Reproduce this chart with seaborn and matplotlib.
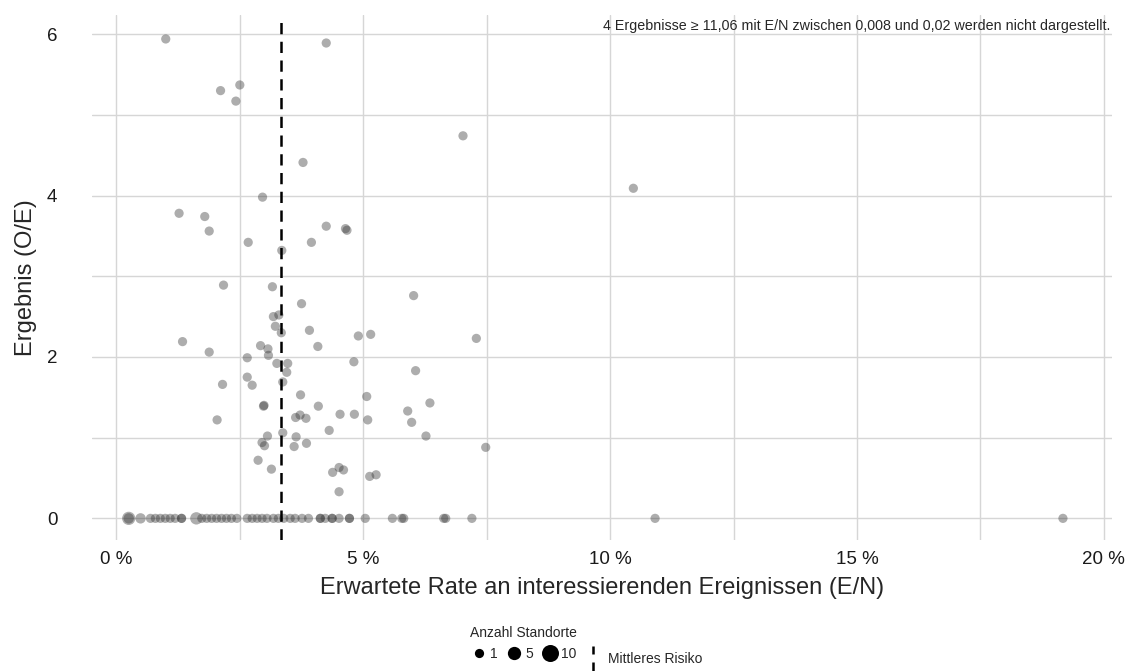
import numpy as np
import pandas as pd
import matplotlib
matplotlib.use("Agg")
import matplotlib.pyplot as plt
import seaborn as sns
from matplotlib.lines import Line2D
from matplotlib.path import Path
from matplotlib.ticker import MultipleLocator, FuncFormatter

# expected rate E/N in percent, observed/expected ratio
rate_pos = [1.00, 4.25, 2.50, 2.11, 2.42, 3.78, 7.02, 10.47, 2.96, 1.27, 1.79, 1.88,
            4.25, 4.64, 4.67, 2.67, 3.95, 3.35, 2.17, 3.16, 3.75, 6.02, 3.18, 3.29,
            3.22, 3.34, 3.91, 1.34, 4.08, 2.92, 3.07, 3.08, 1.88, 2.65, 3.25, 3.47,
            3.45, 3.37, 2.65, 2.75, 2.15, 3.73, 4.09, 2.98, 2.99, 2.04, 3.63, 3.72,
            3.84, 4.53, 4.82, 5.15, 4.90, 4.81, 5.07, 5.09, 4.31, 3.37, 3.06, 2.95,
            3.00, 3.64, 3.60, 3.85, 2.87, 3.14, 4.38, 4.51, 4.60, 5.13, 5.26, 4.51,
            7.29, 6.06, 6.35, 5.90, 5.98, 6.27, 7.48]
oe_pos = [5.94, 5.89, 5.37, 5.30, 5.17, 4.41, 4.74, 4.09, 3.98, 3.78, 3.74, 3.56,
          3.62, 3.59, 3.57, 3.42, 3.42, 3.32, 2.89, 2.87, 2.66, 2.76, 2.50, 2.52,
          2.38, 2.30, 2.33, 2.19, 2.13, 2.14, 2.10, 2.02, 2.06, 1.99, 1.92, 1.92,
          1.81, 1.69, 1.75, 1.65, 1.66, 1.53, 1.39, 1.39, 1.40, 1.22, 1.25, 1.28,
          1.24, 1.29, 1.29, 2.28, 2.26, 1.94, 1.51, 1.22, 1.09, 1.06, 1.02, 0.94,
          0.90, 1.01, 0.89, 0.93, 0.72, 0.61, 0.57, 0.63, 0.60, 0.52, 0.54, 0.33,
          2.23, 1.83, 1.43, 1.33, 1.19, 1.02, 0.88]

rate_zero = [0.25, 0.25, 0.49, 0.69, 0.79, 0.89, 0.99, 1.09, 1.19, 1.32, 1.32, 1.62,
             1.73, 1.83, 1.93, 2.03, 2.13, 2.23, 2.33, 2.44, 2.65, 2.75, 2.85, 2.95,
             3.05, 3.18, 3.28, 3.39, 3.52, 3.62, 3.76, 3.89, 4.13, 4.13, 4.23, 4.37,
             4.37, 4.51, 4.72, 4.72, 5.04, 5.59, 5.78, 5.82, 6.63, 6.67, 7.20, 10.91,
             19.17]
n_zero = [5, 2, 2, 1, 1, 1, 1, 1, 1, 1, 1, 4,
          1, 1, 1, 1, 1, 1, 1, 1, 1, 1, 1, 1,
          1, 1, 1, 1, 1, 1, 1, 1, 1, 1, 1, 1,
          1, 1, 1, 1, 1, 1, 1, 1, 1, 1, 1, 1,
          1]

mean_risk = 3.34
size_levels = [1, 5, 10]
note = "4 Ergebnisse \u2265 11,06 mit E/N zwischen 0,008 und 0,02 werden nicht dargestellt."

df = pd.DataFrame({
    "rate": np.array(rate_pos + rate_zero) / 100,
    "oe": oe_pos + [0] * len(rate_zero),
    "n": [1] * len(rate_pos) + n_zero,
})

sns.set_style("white")
plt.rcParams["font.family"] = ["Liberation Sans", "DejaVu Sans"]

S_MIN, S_MAX = 44, 150

fig = plt.figure(figsize=(11.38, 6.71), dpi=100)
ax = fig.add_axes([0.081, 0.195, 0.896, 0.783])

sns.scatterplot(data=df, x="rate", y="oe", size="n", sizes=(S_MIN, S_MAX), size_norm=(1, 10),
                color="#333333", alpha=0.4, edgecolor="none", legend=False, ax=ax, zorder=3)
ax.axvline(mean_risk / 100, color="black", lw=1.8, ls=(0, (4.5, 3)), zorder=4)

ax.set_xlim(-0.0049, 0.2016)
ax.set_ylim(-0.27, 6.24)
ax.xaxis.set_major_locator(MultipleLocator(0.05))
ax.xaxis.set_minor_locator(MultipleLocator(0.025))
ax.yaxis.set_major_locator(MultipleLocator(2))
ax.yaxis.set_minor_locator(MultipleLocator(1))
ax.xaxis.set_major_formatter(FuncFormatter(lambda v, p: f"{v * 100:.0f} %"))
ax.grid(which="both", color="#d6d6d6", lw=1.0)
ax.set_axisbelow(True)
ax.tick_params(which="both", length=0, labelsize=13.5, colors="#1a1a1a")
ax.tick_params(axis="x", pad=8)
ax.tick_params(axis="y", pad=25)
for s in ax.spines.values():
    s.set_visible(False)

ax.set_xlabel("Erwartete Rate an interessierenden Ereignissen (E/N)", fontsize=17, labelpad=6)
ax.set_ylabel("Ergebnis (O/E)", fontsize=17, labelpad=7)

ax.text(0.999, 0.992, note, transform=ax.transAxes, ha="right", va="top", fontsize=10.3)

# legends
size_handles = [Line2D([], [], marker="o", ls="", color="black", markeredgecolor="none",
                       markersize=np.sqrt(S_MIN + (v - 1) / 9 * (S_MAX - S_MIN)))
                for v in size_levels]
fig.legend(size_handles, [str(v) for v in size_levels], title="Anzahl Standorte",
           ncol=3, loc="center", bbox_to_anchor=(0.46, 0.041), frameon=False,
           fontsize=10, title_fontsize=10, handletextpad=0.2, columnspacing=0.6,
           handlelength=1.2, borderpad=0.2)

vdash = Path([(0, -1), (0, -0.35), (0, 0.35), (0, 1)],
             [Path.MOVETO, Path.LINETO, Path.MOVETO, Path.LINETO])
mean_handle = Line2D([], [], marker=vdash, ls="", color="black", markerfacecolor="none",
                     markersize=18, markeredgewidth=1.8)
fig.legend([mean_handle], ["Mittleres Risiko"], loc="center", bbox_to_anchor=(0.566, 0.018),
           frameon=False, fontsize=10, handletextpad=0.6, handlelength=1.0)

fig.savefig("out.png", dpi=100)
